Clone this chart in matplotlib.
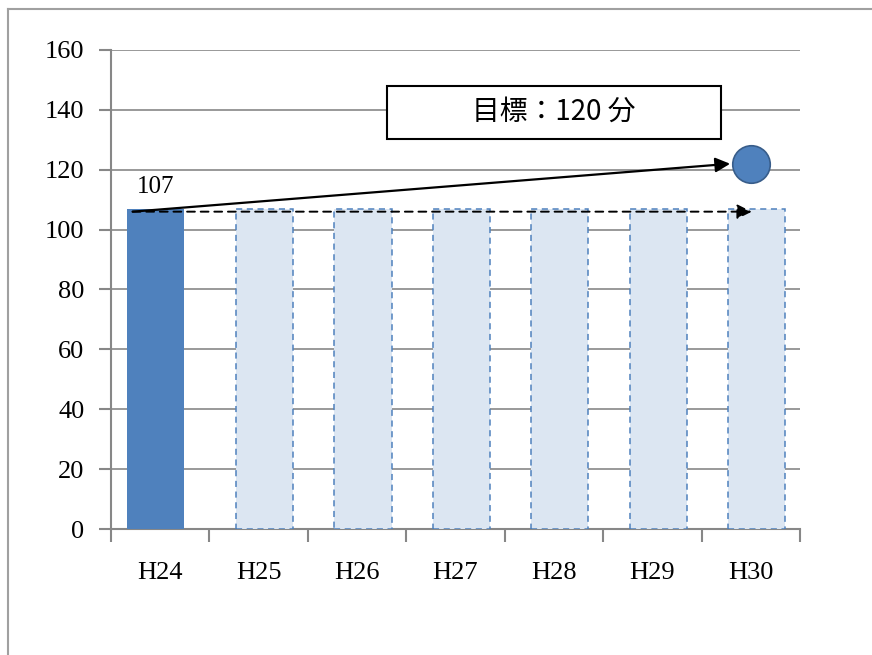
import matplotlib.pyplot as plt
from matplotlib.lines import Line2D
from matplotlib.patches import Rectangle
import numpy as np

# Data
categories = ['H24', 'H25', 'H26', 'H27', 'H28', 'H29', 'H30']
actual = [107, np.nan, np.nan, np.nan, np.nan, np.nan, np.nan]
planned = [np.nan, 107, 107, 107, 107, 107, 107]
target_label = 120
target_marker = 122
arrow_level = 106

W, H = 872, 655
fig = plt.figure(figsize=(W / 100, H / 100), dpi=100)
ax = fig.add_axes([111 / W, 1 - 529 / H, (800 - 111) / W, (529 - 50) / H])

serif = ['Liberation Serif', 'DejaVu Serif']
x = np.arange(len(categories))
bw = 0.58
ax.bar(x - 0.05, actual, width=bw, color='#4F81BD', zorder=3)
ax.bar(x + 0.06, planned, width=bw, facecolor='#DCE6F2', edgecolor='#4F81BD',
       linestyle=(0, (4, 3)), linewidth=1.1, zorder=3)

ax.text(-0.05, actual[0] + 3.5, str(actual[0]), fontsize=18, family=serif,
        ha='center', va='bottom')

# Target marker and arrows
ax.plot(len(categories) - 1, target_marker, 'o', ms=27, mfc='#4F81BD',
        mec='#385D8A', mew=1.2, zorder=6, clip_on=False)
ax.annotate('', xy=(5.79, target_marker), xytext=(-0.28, arrow_level),
            arrowprops=dict(arrowstyle='-|>', color='black', lw=1.6,
                            mutation_scale=22, shrinkA=0, shrinkB=0), zorder=5)
ax.annotate('', xy=(6.01, arrow_level), xytext=(-0.28, arrow_level),
            arrowprops=dict(arrowstyle='-|>', color='black', lw=1.4,
                            linestyle=(0, (4, 3)), mutation_scale=22,
                            shrinkA=0, shrinkB=0), zorder=5)

# Target text box
ax.add_patch(Rectangle((2.305, 130.3), 3.394, 17.7, facecolor='white',
                       edgecolor='black', linewidth=1.5, zorder=7))
ax.text(4.0, 139.3, f'目標：{target_label} 分', fontsize=20,
        family=['Noto Sans CJK JP', 'DejaVu Sans'], ha='center', va='center',
        zorder=8)

# Axes styling
ax.set_xlim(-0.5, len(categories) - 0.5)
ax.set_ylim(0, 160)
ax.set_yticks(np.arange(0, 161, 20))
ax.set_xticks(x)
ax.set_xticklabels(categories)
ax.set_xticks(np.arange(-0.5, len(categories)), minor=True)
ax.tick_params(axis='x', which='major', length=0, pad=24, labelsize=19)
ax.tick_params(axis='x', which='minor', length=9, width=1.5, color='#878787',
               direction='out')
ax.tick_params(axis='y', length=9, width=1.5, color='#878787', pad=10,
               labelsize=19)
for lab in ax.get_xticklabels() + ax.get_yticklabels():
    lab.set_family(serif)

ax.grid(axis='y', color='#878787', lw=1.2, zorder=0)
for side in ['top', 'right']:
    ax.spines[side].set_visible(False)
for side in ['left', 'bottom']:
    ax.spines[side].set_color('#878787')
    ax.spines[side].set_linewidth(1.5)
ax.set_axisbelow(True)

# Outer frame (top and left only)
fig.add_artist(Line2D([8 / W, 1], [1 - 9 / H, 1 - 9 / H], color='#A0A0A0', lw=1.5))
fig.add_artist(Line2D([8 / W, 8 / W], [0, 1 - 9 / H], color='#A0A0A0', lw=1.5))

fig.savefig('out.png', dpi=100, facecolor='white')
